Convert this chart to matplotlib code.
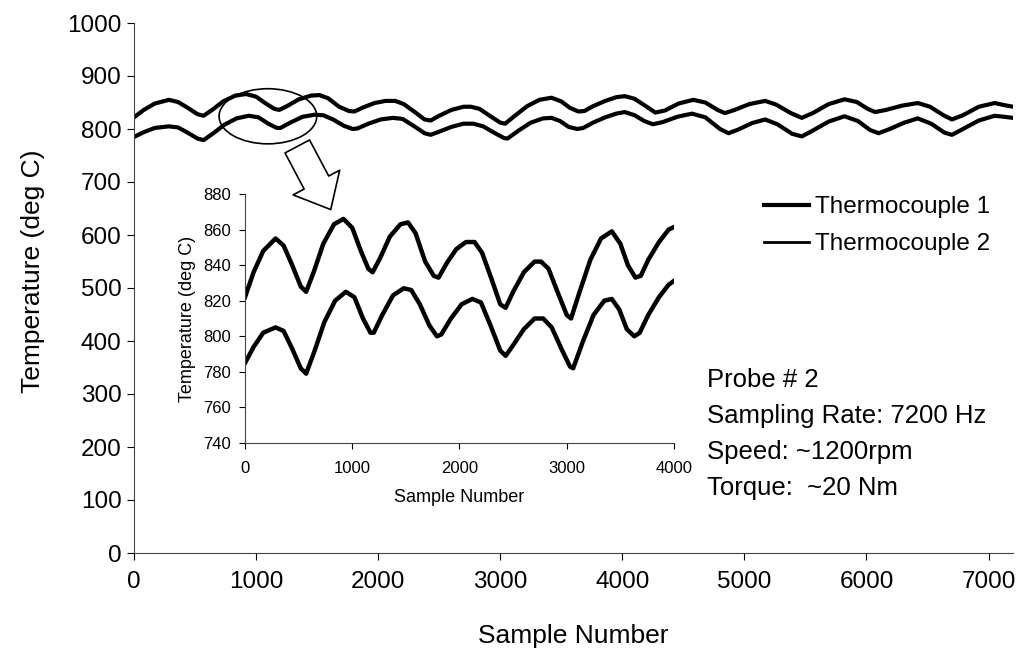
import matplotlib.pyplot as plt
from matplotlib.patches import Ellipse, FancyArrowPatch
from matplotlib.lines import Line2D

plt.rcParams['font.family'] = ['Liberation Sans', 'DejaVu Sans']

# readings: sample number / temperature (deg C)
tc1_x = [0, 80, 170, 285, 360, 440, 520, 570, 640, 730, 830, 918, 1000, 1080, 1150, 1190,
         1260, 1350, 1450, 1520, 1590, 1680, 1760, 1805, 1880, 1970, 2060, 2140, 2210, 2300,
         2380, 2430, 2500, 2600, 2700, 2760, 2830, 2920, 3000, 3040, 3120, 3220, 3320, 3420,
         3500, 3570, 3640, 3690, 3760, 3860, 3950, 4020, 4100, 4200, 4270, 4350, 4460, 4580,
         4680, 4780, 4840, 4920, 5040, 5170, 5260, 5380, 5470, 5560, 5690, 5820, 5920, 6010,
         6070, 6160, 6290, 6420, 6520, 6630, 6700, 6790, 6920, 7050, 7130, 7200]
tc1_y = [822, 836, 848, 855, 851, 840, 828, 825, 836, 852, 863, 866, 861, 848, 838, 836,
         844, 856, 863, 864, 858, 842, 834, 833, 841, 849, 853, 853, 847, 832,
         818, 816, 825, 836, 842, 842, 838, 824, 812, 810, 825, 843, 855, 859,
         852, 840, 833, 834, 843, 853, 860, 862, 857, 842, 831, 835, 848, 855,
         850, 836, 830, 836, 847, 853, 846, 830, 821, 830, 847, 856, 851, 838,
         832, 836, 844, 849, 842, 826, 818, 826, 842, 849, 845, 842]

tc2_x = [0, 80, 170, 285, 360, 440, 520, 570, 650, 740, 840, 940, 1020, 1100, 1170, 1200,
         1280, 1380, 1480, 1550, 1630, 1720, 1790, 1830, 1920, 2020, 2120, 2200, 2290, 2380,
         2430, 2500, 2600, 2700, 2780, 2860, 2950, 3030, 3060, 3150, 3250, 3350, 3420, 3490,
         3560, 3630, 3680, 3760, 3860, 3950, 4020, 4100, 4180, 4250, 4330, 4450, 4570, 4680,
         4800, 4870, 4950, 5060, 5170, 5270, 5390, 5470, 5560, 5690, 5820, 5930, 6030, 6100,
         6190, 6310, 6420, 6530, 6640, 6700, 6790, 6920, 7050, 7130, 7200]
tc2_y = [785, 794, 802, 805, 803, 793, 782, 779, 792, 808, 820, 825, 822, 810, 802, 802,
         812, 823, 827, 826, 818, 806, 800, 801, 810, 818, 821, 819, 806, 792,
         789, 795, 804, 810, 810, 805, 793, 783, 782, 797, 812, 820, 821, 815,
         804, 800, 802, 812, 822, 829, 832, 826, 815, 809, 813, 823, 829, 822,
         800, 792, 799, 811, 818, 809, 791, 786, 797, 814, 824, 815, 798, 792,
         800, 812, 820, 810, 793, 789, 800, 816, 825, 823, 821]

main_xticks = [0, 1000, 2000, 3000, 4000, 5000, 6000, 7000]
main_yticks = [0, 100, 200, 300, 400, 500, 600, 700, 800, 900, 1000]
inset_xticks = [0, 1000, 2000, 3000, 4000]
inset_yticks = [740, 760, 780, 800, 820, 840, 860, 880]

notes = ["Probe # 2", "Sampling Rate: 7200 Hz", "Speed: ~1200rpm", "Torque:  ~20 Nm"]

W, H = 1020, 649
fig = plt.figure(figsize=(W / 100, H / 100), dpi=100)

def fx(px):
    return px / W

def fy(py):
    return 1 - py / H

# main axes
ax = fig.add_axes([fx(134), fy(553), fx(1013) - fx(134), fy(23) - fy(553)])
ax.plot(tc1_x, tc1_y, color='black', lw=3)
ax.plot(tc2_x, tc2_y, color='black', lw=3)
ax.set_xlim(0, 7200)
ax.set_ylim(0, 1000)
ax.set_xticks(main_xticks)
ax.set_yticks(main_yticks)
for s in ['top', 'right']:
    ax.spines[s].set_visible(False)
for s in ['left', 'bottom']:
    ax.spines[s].set_linewidth(0.8)
    ax.spines[s].set_color('#444444')
ax.tick_params(direction='out', length=5, width=0.8, labelsize=17.5)
ax.tick_params(axis='x', pad=8)
ax.tick_params(axis='y', pad=4)
ax.set_xlabel('Sample Number', fontsize=19, labelpad=22)
ax.set_ylabel('Temperature (deg C)', fontsize=19)
ax.yaxis.set_label_coords(-0.101, 0.532)

# circle around the zoomed region
ax.add_patch(Ellipse((1097, 824), 800, 104, fill=False, edgecolor='black', lw=1.2))

# hollow arrow pointing to the inset
arrow = FancyArrowPatch((fx(296), fy(144)), (fx(332), fy(212)),
                        transform=fig.transFigure,
                        arrowstyle='simple,head_width=3.8,head_length=2.2,tail_width=2.0',
                        mutation_scale=10, facecolor='white', edgecolor='black', lw=1.2)
fig.patches.append(arrow)

# legend
handles = [Line2D([], [], color='black', lw=3), Line2D([], [], color='black', lw=2)]
fig.legend(handles, ['Thermocouple 1', 'Thermocouple 2'], loc='upper left',
           bbox_to_anchor=(fx(752), fy(184)), frameon=False, fontsize=17.5,
           handlelength=1.85, handletextpad=0.25, labelspacing=0.62, borderpad=0)

# run notes
for i, t in enumerate(notes):
    fig.text(fx(707), fy(380 + i * 36), t, fontsize=18.5, va='center', ha='left')

# inset axes
ins = fig.add_axes([fx(245), fy(443), fx(674) - fx(245), fy(194) - fy(443)])
ins.plot(tc1_x, tc1_y, color='black', lw=3.2)
ins.plot(tc2_x, tc2_y, color='black', lw=3.2)
ins.set_xlim(0, 4000)
ins.set_ylim(740, 880)
ins.set_xticks(inset_xticks)
ins.set_yticks(inset_yticks)
ins.patch.set_alpha(0)
for s in ['top', 'right']:
    ins.spines[s].set_visible(False)
for s in ['left', 'bottom']:
    ins.spines[s].set_linewidth(0.8)
    ins.spines[s].set_color('#444444')
ins.tick_params(direction='out', length=4, width=0.8, labelsize=12)
ins.tick_params(axis='x', pad=9)
ins.tick_params(axis='y', pad=6)
ins.set_xlabel('Sample Number', fontsize=13, labelpad=9)
ins.set_ylabel('Temperature (deg C)', fontsize=13, labelpad=5)

fig.savefig('out.png', dpi=100)
